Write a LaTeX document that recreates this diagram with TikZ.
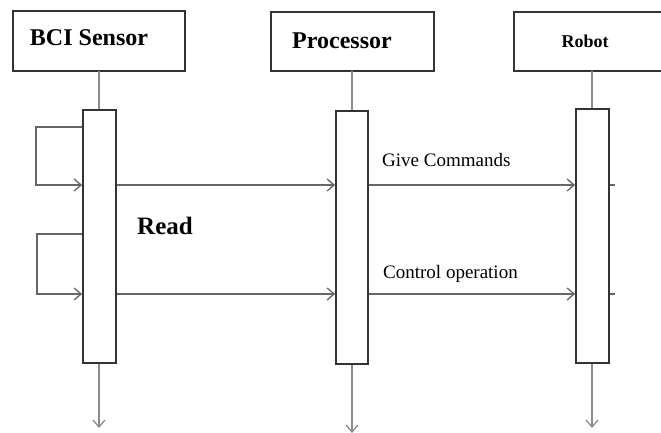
\documentclass[tikz,border=0pt]{standalone}
\usepackage{fontspec}
\setmainfont{Liberation Serif}
\usetikzlibrary{arrows.meta}
\begin{document}
\begin{tikzpicture}[x=1pt,y=-1pt,
  actor/.style={draw=black!80,line width=2pt,fill=white,inner sep=0pt},
  life/.style={draw=black!45,line width=1.5pt},
  act/.style={draw=black!80,line width=1.8pt,fill=white},
  tip/.style={-{Straight Barb[length=7pt,width=12pt,line width=1.3pt]}},
  msg/.style={draw=black!60,line width=1.4pt,tip},
  lbl/.style={font=\fontsize{19}{22}\selectfont,inner sep=0pt},
  ttl/.style={font=\bfseries\fontsize{24}{28}\selectfont,inner sep=0pt}]
\useasboundingbox (0,0) rectangle (661,433);
% actor boxes
\draw[actor] (13,11) rectangle (185,71);
\draw[actor] (271,12) rectangle (434,71);
\draw[actor] (514,12) rectangle (662,71);
\node[ttl] (t1) at (89,38) {BCI Sensor};
\node[ttl] (t2) at (342,41) {Processor};
\node[ttl,font=\bfseries\fontsize{18}{21}\selectfont] (t3) at (585,41) {Robot};
% lifelines
\coordinate (l1t) at (99,71); \coordinate (l1b) at (99,428);
\coordinate (l2t) at (352,71); \coordinate (l2b) at (352,433);
\coordinate (l3t) at (592,71); \coordinate (l3b) at (592,428);
\draw[life] (l1t) -- (99,110);
\draw[life] (l2t) -- (352,110);
\draw[life] (l3t) -- (592,108);
\draw[life,tip] (99,362) -- (l1b);
\draw[life,tip] (352,363) -- (l2b);
\draw[life,tip] (592,362) -- (l3b);
% activation bars
\node[act,minimum width=33pt,minimum height=253pt,anchor=north] (a1) at (99.5,109) {};
\node[act,minimum width=32pt,minimum height=253pt,anchor=north] (a2) at (352,110) {};
\node[act,minimum width=33pt,minimum height=254pt,anchor=north] (a3) at (592.5,108) {};
% self loops
\coordinate (s1) at (36,127); \coordinate (s2) at (37,234);
\draw[msg] (a1.west |- s1) -- (s1) |- (a1.west |- 0,185);
\draw[msg] (a1.west |- s2) -- (s2) |- (a1.west |- 0,294);
% messages
\draw[msg] (a1.east |- 0,185) -- (a2.west |- 0,185);
\draw[msg] (a2.east |- 0,185) -- (a3.west |- 0,185);
\draw[msg] (a1.east |- 0,294) -- (a2.west |- 0,294);
\draw[msg] (a2.east |- 0,294) -- (a3.west |- 0,294);
\draw[life,draw=black!60] (a3.east |- 0,185) -- ++(5,0);
\draw[life,draw=black!60] (a3.east |- 0,294) -- ++(5,0);
% labels
\node[lbl,anchor=west] (m1) at (382,160) {Give Commands};
\node[lbl,anchor=west] (m2) at (383,274) {Control operation};
\node[ttl,font=\bfseries\fontsize{25}{29}\selectfont] (rd) at (165,226) {Read};
\end{tikzpicture}
\end{document}
